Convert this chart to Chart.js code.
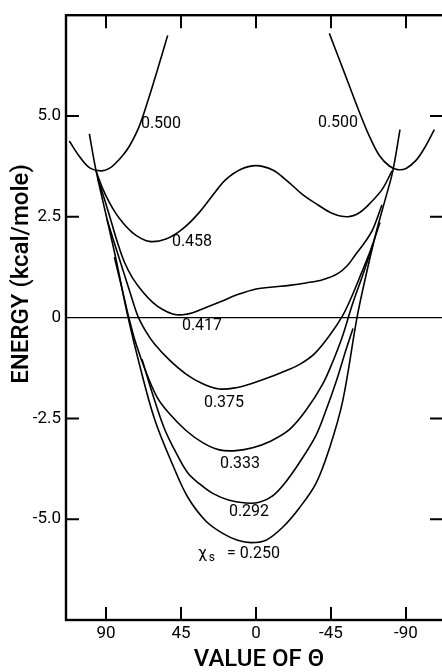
<!DOCTYPE html>
<html>
<head>
<meta charset="utf-8">
<script src="https://cdn.jsdelivr.net/npm/chart.js@4.4.1/dist/chart.umd.min.js"></script>
<style>
  html, body { margin: 0; padding: 0; background: #fff; overflow: hidden; }
  #wrap { width: 446px; height: 672px; }
</style>
</head>
<body>
<div id="wrap"><canvas id="energy-chart" width="446" height="672"></canvas></div>
<script>
// theta in degrees, energy in kcal/mole, one pair of arrays per chi_s curve
const theta500a = [112, 106, 100, 93, 88, 84, 80, 76, 70, 64, 58, 53];
const energy500a = [4.38, 4.0, 3.72, 3.64, 3.7, 3.84, 4.02, 4.25, 4.75, 5.49, 6.3, 7.0];
const theta500b = [-44, -50, -56, -62, -68, -74, -80, -85, -90, -96, -101, -107];
const energy500b = [7.05, 6.4, 5.75, 5.1, 4.5, 4.02, 3.76, 3.67, 3.7, 3.9, 4.2, 4.66];

const theta458 = [96, 92, 88, 84, 80, 76, 72, 64, 54, 44, 34, 24, 18, 9, 0, -10, -19, -28, -37, -46, -55, -62, -69, -76, -81.6];
const energy458 = [3.64, 3.2, 2.86, 2.58, 2.36, 2.18, 2.04, 1.89, 1.95, 2.2, 2.61, 3.14, 3.43, 3.68, 3.77, 3.66, 3.38, 3.05, 2.8, 2.58, 2.5, 2.6, 2.86, 3.2, 3.64];

const theta417 = [95, 91, 87, 83, 79, 74, 68, 62, 56, 50, 44, 38, 30, 21, 11, 0, -10, -20, -30, -40, -49, -55, -60, -65, -70, -75.6];
const energy417 = [3.45, 2.95, 2.4, 1.85, 1.38, 0.98, 0.64, 0.38, 0.2, 0.09, 0.07, 0.12, 0.25, 0.4, 0.57, 0.71, 0.76, 0.8, 0.86, 0.94, 1.09, 1.3, 1.58, 1.85, 2.18, 2.8];

const theta375 = [89.4, 85, 80, 75, 71, 66, 61, 52, 42, 32, 22, 12, 3, -8, -19, -27, -35, -44, -52, -57, -63, -69, -74.4];
const energy375 = [2.44, 1.85, 1.2, 0.55, 0.05, -0.35, -0.65, -1.05, -1.4, -1.64, -1.77, -1.74, -1.64, -1.48, -1.3, -1.14, -0.9, -0.45, 0.05, 0.48, 1.08, 1.7, 2.36];

const theta333 = [85, 80, 76, 72, 66, 59.4, 52, 42, 32, 22, 12, 2, -8, -20, -30, -40, -46, -52, -58, -64, -70];
const energy333 = [1.5, 0.65, -0.05, -0.65, -1.35, -1.97, -2.38, -2.8, -3.1, -3.28, -3.3, -3.23, -3.08, -2.78, -2.3, -1.65, -1.1, -0.45, 0.35, 1.05, 1.8];

const theta292 = [68.4, 62, 55, 48, 41, 34, 26, 16, 6, -2, -10, -17, -26, -36, -42, -48, -54, -58.2];
const energy292 = [-1.03, -1.9, -2.75, -3.35, -3.85, -4.12, -4.36, -4.53, -4.6, -4.58, -4.42, -4.12, -3.6, -2.92, -2.3, -1.6, -0.8, -0.27];

const theta250 = [100, 96, 90, 84, 77, 70, 61, 50, 41, 30, 20, 11, 3, -6, -16, -26, -36, -44, -52, -60.6, -66, -72, -78, -82, -86.4];
const energy250 = [4.56, 3.65, 2.55, 1.45, 0.05, -1.15, -2.5, -3.65, -4.45, -5.05, -5.35, -5.52, -5.58, -5.52, -5.2, -4.72, -4.11, -3.25, -2.07, 0.0, 1.05, 2.1, 3.0, 3.62, 4.66];

// axis ticks
const xTicks = [90, 45, 0, -45, -90];
const xTickLabels = ["90", "45", "0", "-45", "-90"];
const yTicks = [5, 2.5, 0, -2.5, -5];
const yTickLabels = ["5.0", "2.5", "0", "-2.5", "-5.0"];

// curve labels (anchored in data units)
const curveLabels = ["0.500", "0.500", "0.458", "0.417", "0.375", "0.333", "0.292", "= 0.250"];
const labelTheta = [57, -49.2, 38.4, 32.4, 19.2, 9.6, 4.2, 1.5];
const labelEnergy = [4.8, 4.83, 1.87, -0.22, -2.12, -3.62, -4.83, -5.86];

const FONT = "Roboto, 'Noto Sans', sans-serif";

function toPoints(thetas, energies) {
  return thetas.map((t, i) => ({ x: t, y: energies[i] }));
}

const curves = [
  ["0.500", theta500a, energy500a],
  ["0.500b", theta500b, energy500b],
  ["0.458", theta458, energy458],
  ["0.417", theta417, energy417],
  ["0.375", theta375, energy375],
  ["0.333", theta333, energy333],
  ["0.292", theta292, energy292],
  ["0.250", theta250, energy250],
];

const datasets = curves.map(([name, t, e]) => ({
  label: name,
  data: toPoints(t, e),
}));

// frame, inward ticks, axis titles and curve labels
const frameAndLabels = {
  id: "frameAndLabels",
  afterDraw(chart) {
    const { ctx, chartArea: a } = chart;
    const x = chart.scales.x;
    const y = chart.scales.y;
    ctx.save();
    ctx.strokeStyle = "#000";
    ctx.lineWidth = 2.4;
    ctx.strokeRect(a.left, a.top, a.right - a.left, a.bottom - a.top);

    ctx.lineWidth = 2;
    ctx.beginPath();
    xTicks.forEach((v) => {
      const px = x.getPixelForValue(v);
      ctx.moveTo(px, a.bottom);
      ctx.lineTo(px, a.bottom - 13);
      ctx.moveTo(px, a.top);
      ctx.lineTo(px, a.top + 13);
    });
    yTicks.forEach((v) => {
      if (v === 0) return;
      const py = y.getPixelForValue(v);
      ctx.moveTo(a.left, py);
      ctx.lineTo(a.left + 13, py);
      ctx.moveTo(a.right, py);
      ctx.lineTo(a.right - 14, py);
    });
    ctx.stroke();

    ctx.fillStyle = "#000";
    ctx.textBaseline = "middle";
    ctx.font = "16px " + FONT;
    curveLabels.forEach((txt, i) => {
      const px = x.getPixelForValue(labelTheta[i]);
      const py = y.getPixelForValue(labelEnergy[i]);
      ctx.textAlign = "center";
      ctx.fillText(txt, px, py);
      if (i === curveLabels.length - 1) {
        // chi_s in front of the last label
        const left = px - ctx.measureText(txt).width / 2;
        ctx.textAlign = "right";
        ctx.font = "12px " + FONT;
        ctx.fillText("s", left - 12, py + 4);
        const sw = ctx.measureText("s").width;
        ctx.font = "16px " + FONT;
        ctx.fillText("χ", left - 14 - sw, py);
      }
    });

    // axis titles
    ctx.font = "500 24px " + FONT;
    ctx.textAlign = "center";
    ctx.fillText("VALUE OF Θ", 259, 660);
    ctx.translate(22, 274);
    ctx.rotate(-Math.PI / 2);
    ctx.font = "500 24px " + FONT;
    ctx.fillText("ENERGY (kcal/mole)", 0, 0);
    ctx.restore();
  },
};

const canvas = document.querySelector("#energy-chart");
new Chart(canvas, {
  type: "line",
  data: { datasets },
  options: {
    responsive: false,
    animation: false,
    layout: { padding: { top: 12, right: 2, left: 0, bottom: 0 } },
    plugins: { legend: { display: false }, tooltip: { enabled: false } },
    elements: {
      point: { radius: 0 },
      line: { borderColor: "#000", borderWidth: 1.6, tension: 0.35 },
    },
    scales: {
      x: {
        type: "linear",
        reverse: true,
        min: -112.8,
        max: 114,
        grid: { display: false, drawTicks: false },
        border: { display: false },
        afterBuildTicks: (s) => {
          s.ticks = xTicks.map((v) => ({ value: v }));
        },
        afterFit: (s) => {
          s.height = 52;
        },
        ticks: {
          padding: 4,
          color: "#000",
          maxRotation: 0,
          autoSkip: false,
          font: { family: FONT, size: 17 },
          callback: (v) => xTickLabels[xTicks.indexOf(v)],
        },
      },
      y: {
        type: "linear",
        min: -7.5,
        max: 7.5,
        grid: {
          drawTicks: false,
          lineWidth: 1.2,
          color: (c) => (c.tick && c.tick.value === 0 ? "#000" : "rgba(0,0,0,0)"),
        },
        border: { display: false },
        afterBuildTicks: (s) => {
          s.ticks = yTicks.map((v) => ({ value: v }));
        },
        afterFit: (s) => {
          s.width = 66;
        },
        ticks: {
          padding: 5,
          color: "#000",
          font: { family: FONT, size: 17 },
          callback: (v) => yTickLabels[yTicks.indexOf(v)],
        },
      },
    },
  },
  plugins: [frameAndLabels],
});
</script>
</body>
</html>
